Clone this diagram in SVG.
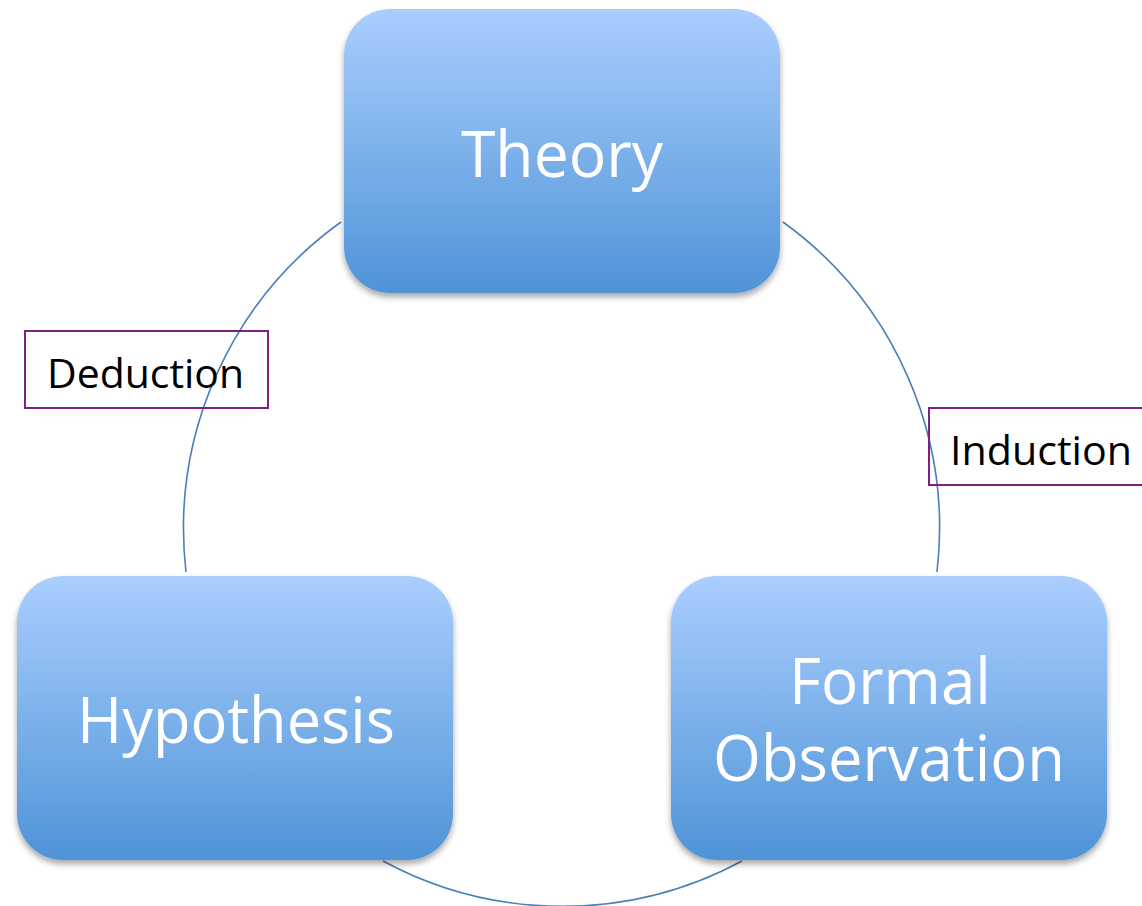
<svg xmlns="http://www.w3.org/2000/svg" width="1142" height="906" viewBox="0 0 1142 906">
<style>
.box{fill:url(#g);filter:url(#sh)}
.nt{font-family:"Open Sans","Liberation Sans",sans-serif;fill:#fff;font-size:64px;text-anchor:middle}
.arc{fill:none;stroke:#4a7ebb;stroke-width:1.6}
.lbl{fill:none;stroke:#7f1f80;stroke-width:2}
.lt{font-family:"Open Sans","Liberation Sans",sans-serif;fill:#000;font-size:41px}
</style>
<defs>
<linearGradient id="g" x1="0" y1="0" x2="0" y2="1">
<stop offset="0" stop-color="#aacefe"/>
<stop offset="1" stop-color="#4f94d7"/>
</linearGradient>
<filter id="sh" x="-10%" y="-10%" width="120%" height="125%">
<feGaussianBlur in="SourceAlpha" stdDeviation="3"/>
<feOffset dx="0" dy="4" result="b"/>
<feComponentTransfer><feFuncA type="linear" slope="0.35"/></feComponentTransfer>
<feMerge><feMergeNode/><feMergeNode in="SourceGraphic"/></feMerge>
</filter>
</defs>
<rect width="1142" height="906" fill="#fff"/>
<g id="connectors">
<path class="arc" d="M341,222 A378,378 0 0 0 186,572"/>
<path class="arc" d="M783,222 A378,378 0 0 1 937,572"/>
<path class="arc" d="M383,861 A378,378 0 0 0 742,861"/>
</g>
<g id="theory">
<rect class="box" x="344" y="9" width="436" height="284" rx="46"/>
<text class="nt" x="562" y="177" textLength="202" lengthAdjust="spacingAndGlyphs">Theory</text>
</g>
<g id="hypothesis">
<rect class="box" x="17" y="576" width="436" height="284" rx="46"/>
<text class="nt" x="236" y="743" textLength="318" lengthAdjust="spacingAndGlyphs">Hypothesis</text>
</g>
<g id="observation">
<rect class="box" x="671" y="576" width="436" height="284" rx="46"/>
<text class="nt"><tspan x="890" y="704" textLength="202" lengthAdjust="spacingAndGlyphs">Formal</tspan><tspan x="889" y="781" textLength="352" lengthAdjust="spacingAndGlyphs">Observation</tspan></text>
</g>
<g id="deduction">
<rect class="lbl" x="25" y="331" width="243" height="77"/>
<text class="lt" x="47" y="388" textLength="197" lengthAdjust="spacingAndGlyphs">Deduction</text>
</g>
<g id="induction">
<rect class="lbl" x="929" y="408" width="240" height="77"/>
<text class="lt" x="950" y="465" textLength="182" lengthAdjust="spacingAndGlyphs">Induction</text>
</g>
</svg>
